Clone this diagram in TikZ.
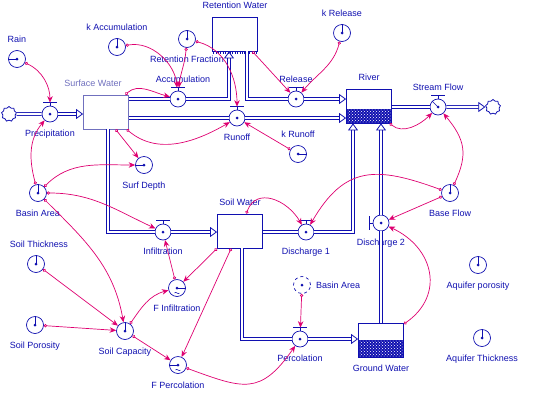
\documentclass[tikz,border=0pt]{standalone}
\usepackage{fontspec}
\setmainfont{Liberation Sans}
\usetikzlibrary{arrows.meta,calc,patterns,shapes.symbols}
\definecolor{sblue}{RGB}{16,16,176}
\definecolor{sgrey}{RGB}{112,112,190}
\definecolor{lmag}{RGB}{222,0,112}
% valve bar on top, pointer inside a circle, graph mark
\newcommand{\valvetop}[1]{\draw[sblue,line width=0.7pt] (#1.north) -- ++(0,-3);
  \draw[sblue,line width=1.6pt] ([shift={(-7,-11.5)}]#1.center) -- ++(14,0);}
\newcommand{\hand}[2]{\draw[sblue,line width=0.6pt] (#1.center) -- (#1.#2);}
\newcommand{\gfmark}[1]{\draw[sblue,line width=0.5pt] ([shift={(-2.5,5)}]#1.center) to[out=60,in=120] ++(2.5,0) to[out=-60,in=-120] ++(2.5,0);}
\begin{document}
\begin{tikzpicture}[x=1pt,y=-1pt,
    font=\fontsize{9}{10}\selectfont,
    label distance=6.5pt,
    every label/.style={text=sblue, inner sep=1pt, text height=6.5pt, text depth=0pt},
    stock/.style={draw=sblue, line width=0.8pt, fill=white, minimum width=45pt, minimum height=34pt, inner sep=0pt},
    aux/.style={circle, draw=sblue, line width=0.7pt, minimum size=17pt, inner sep=0pt,
      path picture={\fill[sblue] (path picture bounding box.center) circle (1.5pt);}},
    valve/.style={aux, minimum size=16pt},
    cloudy/.style={cloud, cloud puffs=9, aspect=1, draw=sblue, line width=0.8pt, minimum size=15pt, inner sep=0pt},
    pipe/.style={draw=sblue, line width=0.8pt, double=white, double distance=2.2pt},
    inflow/.style={pipe, -{Triangle[open, length=7pt, width=10pt]}},
    link/.style={draw=lmag, line width=0.7pt, {Circle[open, length=3.2pt, width=3.2pt]}-{Stealth[length=6.5pt, width=5.5pt]}},
    water/.style={path picture={
      \fill[sblue] ($(path picture bounding box.south west)!#1!(path picture bounding box.north west)$) rectangle (path picture bounding box.south east);
      \fill[pattern=crosshatch dots, pattern color=white]
      ($(path picture bounding box.south west)!#1!(path picture bounding box.north west)$) rectangle (path picture bounding box.south east);}}
  ]
  \useasboundingbox (0,0) rectangle (545,410);

  % Stocks
  \node[stock, draw=sgrey, label={[text=sgrey, xshift=-13pt]above:Surface Water}] (surfw) at (106,112) {};
  \node[stock, label=above:Retention Water] (retw) at (235,34) {};
  \node[stock, water=0.4, label=above:River] (river) at (369,106) {};
  \node[stock, label=above:Soil Water] (soilw) at (240,231) {};
  \node[stock, water=0.5, label=below:Ground Water] (groundw) at (381,340) {};
  \draw[sblue, line width=1.2pt, dash pattern=on 0.8pt off 1.6pt] ([shift={(1,1.5)}]retw.south west) -- ([shift={(-1,1.5)}]retw.south east);

  % Clouds
  \node[cloudy] (src) at (9,114) {};
  \node[cloudy] (sink) at (493,107) {};

  % Flows
  \node[valve, label=below:Precipitation] (prec) at (50,114) {};
  \node[valve, label={[xshift=5pt]above:Accumulation}] (accum) at (178,99) {};
  \node[valve, label=below:Runoff] (runoff) at (237,118) {};
  \node[valve, label=above:Release] (release) at (296,99) {};
  \node[valve, label=above:Stream Flow] (stream) at (438,107) {};
  \node[valve, label=below:Infiltration] (infil) at (163,232) {};
  \node[valve, label=below:Discharge 1] (dis1) at (306,232) {};
  \node[valve, label=below:Discharge 2] (dis2) at (381,223) {};
  \node[valve, label=below:Percolation] (perc) at (300,339) {};
  \foreach \v in {prec,accum,runoff,release,stream,infil,dis1,perc} {\valvetop{\v}}
  \draw[sblue,line width=0.7pt] (dis2.west) -- ++(-3,0);
  \draw[sblue,line width=1.6pt] ([shift={(-11.5,-7)}]dis2.center) -- ++(0,14);
  \hand{stream}{135}

  % Converters
  \node[aux, label=above:Rain] (rain) at (17,59) {};
  \node[aux, label=above:k Accumulation] (kacc) at (117,47) {};
  \node[aux, label=below:Retention Fraction] (retfrac) at (187,39) {};
  \node[aux, label=above:k Release] (krel) at (342,33) {};
  \node[aux, label=above:k Runoff] (krun) at (298,154) {};
  \node[aux, label=below:Surf Depth] (surfdepth) at (144,165) {};
  \node[aux, label=below:Basin Area] (basin) at (38,193) {};
  \node[aux, label={[xshift=3pt]above:Soil Thickness}] (soilthick) at (36,264) {};
  \node[aux, label=below:Soil Porosity] (soilpor) at (35,325) {};
  \node[aux, label=below:Soil Capacity] (soilcap) at (125,331) {};
  \node[aux, label=below:F Infiltration] (finf) at (177,288) {};
  \node[aux, label=below:F Percolation] (fperc) at (178,365) {};
  \node[aux, label=below:Base Flow] (baseflow) at (450,193) {};
  \node[aux, dashed, label={[label distance=4pt]right:Basin Area}] (ghost) at (302,285) {};
  \node[aux, label=below:Aquifer porosity] (aqpor) at (478,265) {};
  \node[aux, label=below:Aquifer Thickness] (aqthick) at (482,338) {};
  \foreach \a/\d in {rain/180,kacc/90,retfrac/90,krel/90,krun/0,surfdepth/180,basin/90,soilthick/90,
    soilpor/90,soilcap/90,finf/0,fperc/180,baseflow/90,aqpor/90,aqthick/90} {\hand{\a}{\d}}
  \gfmark{finf}
  \gfmark{fperc}

  % Pipes
  \draw[pipe] (src) -- (prec);
  \draw[inflow] (prec) -- (prec -| surfw.west);
  \draw[pipe] (surfw.east |- accum) -- (accum);
  \draw[inflow] (accum) -| ($(retw.south)+(-6,0)$);
  \draw[pipe] ($(retw.south)+(12,0)$) |- (release);
  \draw[inflow] (release) -- (release -| river.west);
  \draw[pipe] (surfw.east |- runoff) -- (runoff);
  \draw[inflow] (runoff) -- (runoff -| river.west);
  \draw[pipe] ($(surfw.south)+(2,0)$) |- (infil);
  \draw[inflow] (infil) -- (infil -| soilw.west);
  \draw[pipe] (soilw.east |- dis1) -- (dis1);
  \draw[inflow] (dis1) -| ($(river.south)+(-16,0)$);
  \draw[pipe] (groundw.north) -- (dis2);
  \draw[inflow] (dis2) -- (dis2 |- river.south);
  \draw[pipe] ($(soilw.south)+(2,0)$) |- (perc);
  \draw[inflow] (perc) -- (perc -| groundw.west);
  \draw[pipe] (river.east |- stream) -- (stream);
  \draw[inflow] (stream) -- (sink);

  % Connectors
  \draw[link, shorten >=3pt] (rain) to[out=-25, in=90] (prec);
  \draw[link, shorten >=3pt] (kacc) to[out=10, in=95] (accum);
  \draw[link, shorten >=3pt] (retfrac) to[out=-95, in=85] (accum);
  \draw[link, shorten >=3pt] (retfrac) to[out=-15, in=90] (runoff);
  \draw[link] (surfw) to[out=42, in=165] (accum);
  \draw[link] (surfw) to[out=-40, in=-150] (runoff);
  \draw[link] (surfw.-61) -- (surfdepth);
  \draw[link] (retw.-45) -- (release);
  \draw[link] (krel) to[out=-105, in=50] (release);
  \draw[link] (krun) -- (runoff);
  \draw[link] (river) to[out=-40, in=-135] (stream);
  \draw[link] (baseflow) to[out=65, in=-50, looseness=1.2] (stream);
  \draw[link] (baseflow) to[out=160, in=60, looseness=1.3] (dis1);
  \draw[link] (baseflow) -- (dis2);
  \draw[link] (groundw) to[out=35, in=-25, looseness=1.3] (dis2);
  \draw[link] (soilw) to[out=70, in=120, looseness=1.3] (dis1);
  \draw[link, shorten >=3pt] (ghost) -- (perc);
  \draw[link] (fperc) to[out=-20, in=-125, looseness=1.4] (perc);
  \draw[link] (soilw.south west) -- (finf);
  \draw[link] (soilw.-117) -- (fperc);
  \draw[link] (finf) -- (infil);
  \draw[link] (soilcap) to[out=55, in=-165] (finf);
  \draw[link] (soilcap) -- (fperc);
  \draw[link] (soilthick) -- (soilcap);
  \draw[link] (soilpor) -- (soilcap);
  \draw[link] (basin) to[out=-45, in=100] (soilcap);
  \draw[link] (basin) to[out=0, in=155] (infil);
  \draw[link] (basin) to[out=45, in=180] (surfdepth);
  \draw[link] (basin) to[out=105, in=-130] (prec);
\end{tikzpicture}
\end{document}
